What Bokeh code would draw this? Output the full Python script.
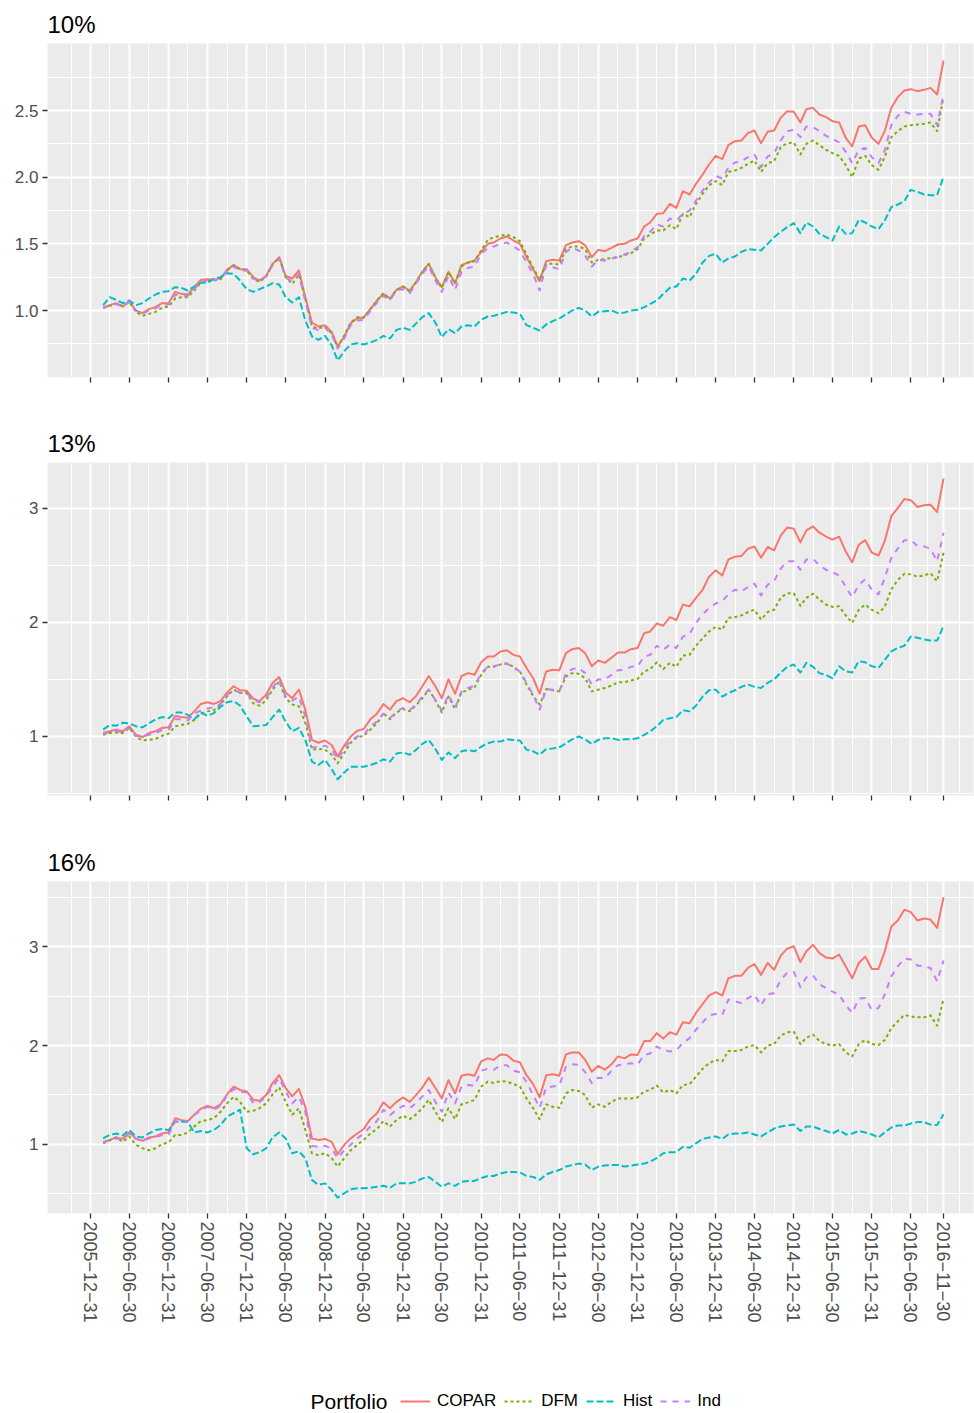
import calendar
from datetime import datetime
from bokeh.plotting import figure
from bokeh.layouts import column
from bokeh.models import ColumnDataSource, FixedTicker, Range1d, Legend, LegendItem, Label
from bokeh.embed import file_html
from bokeh.resources import INLINE

# ---------------- data ----------------
panel_titles = ["10%", "13%", "16%"]
series_names = ["COPAR", "DFM", "Hist", "Ind"]
tick_labels = ["2005-12-31", "2006-06-30", "2006-12-31", "2007-06-30", "2007-12-31",
               "2008-06-30", "2008-12-31", "2009-06-30", "2009-12-31", "2010-06-30",
               "2010-12-31", "2011-06-30", "2011-12-31", "2012-06-30", "2012-12-31",
               "2013-06-30", "2013-12-31", "2014-06-30", "2014-12-31", "2015-06-30",
               "2015-12-31", "2016-06-30", "2016-11-30"]
first_month = (2006, 2)   # monthly series, month-end values
n_months = 130

copar_10 = [1.025, 1.04, 1.055, 1.03, 1.07, 1.00, 0.98, 1.01, 1.025, 1.055,
            1.055, 1.14, 1.125, 1.12, 1.175, 1.23, 1.235, 1.23, 1.24, 1.305,
            1.34, 1.31, 1.31, 1.25, 1.225, 1.26, 1.35, 1.40, 1.26, 1.24,
            1.30, 1.10, 0.91, 0.88, 0.89, 0.84, 0.73, 0.805, 0.905, 0.94,
            0.95, 1.01, 1.075, 1.125, 1.09, 1.155, 1.18, 1.15, 1.21, 1.29,
            1.35, 1.25, 1.175, 1.29, 1.205, 1.34, 1.36, 1.375, 1.44, 1.50,
            1.51, 1.54, 1.555, 1.525, 1.50, 1.40, 1.31, 1.22, 1.37, 1.38,
            1.375, 1.49, 1.51, 1.52, 1.49, 1.40, 1.455, 1.445, 1.47, 1.495,
            1.50, 1.525, 1.54, 1.63, 1.66, 1.725, 1.73, 1.80, 1.77, 1.895,
            1.87, 1.95, 2.02, 2.095, 2.16, 2.135, 2.24, 2.27, 2.275, 2.33,
            2.35, 2.255, 2.34, 2.35, 2.445, 2.495, 2.49, 2.41, 2.51, 2.52,
            2.47, 2.45, 2.42, 2.41, 2.295, 2.23, 2.38, 2.39, 2.295, 2.25,
            2.345, 2.52, 2.60, 2.65, 2.66, 2.645, 2.655, 2.67, 2.62, 2.875]
dfm_10 = [1.02, 1.035, 1.05, 1.035, 1.065, 0.99, 0.96, 0.975, 0.99, 1.02,
          1.03, 1.09, 1.10, 1.10, 1.15, 1.21, 1.22, 1.225, 1.235, 1.30,
          1.34, 1.31, 1.30, 1.235, 1.215, 1.255, 1.345, 1.395, 1.25, 1.20,
          1.27, 1.09, 0.88, 0.865, 0.88, 0.83, 0.725, 0.81, 0.91, 0.95,
          0.945, 1.01, 1.075, 1.13, 1.085, 1.155, 1.18, 1.14, 1.21, 1.29,
          1.35, 1.24, 1.17, 1.29, 1.20, 1.33, 1.36, 1.37, 1.45, 1.53,
          1.55, 1.56, 1.57, 1.55, 1.52, 1.42, 1.32, 1.23, 1.35, 1.35,
          1.345, 1.46, 1.48, 1.48, 1.46, 1.36, 1.38, 1.385, 1.395, 1.40,
          1.415, 1.43, 1.46, 1.54, 1.57, 1.60, 1.60, 1.64, 1.61, 1.725,
          1.70, 1.80, 1.875, 1.94, 1.97, 1.94, 2.04, 2.05, 2.07, 2.10,
          2.125, 2.04, 2.105, 2.12, 2.225, 2.255, 2.26, 2.17, 2.25, 2.275,
          2.24, 2.205, 2.18, 2.16, 2.09, 2.00, 2.14, 2.16, 2.09, 2.055,
          2.15, 2.30, 2.345, 2.38, 2.39, 2.395, 2.40, 2.41, 2.345, 2.60]
hist_10 = [1.04, 1.10, 1.08, 1.055, 1.075, 1.04, 1.055, 1.09, 1.12, 1.14,
           1.145, 1.175, 1.17, 1.15, 1.18, 1.21, 1.205, 1.24, 1.25, 1.28,
           1.275, 1.225, 1.16, 1.14, 1.16, 1.18, 1.205, 1.195, 1.10, 1.06,
           1.10, 0.925, 0.805, 0.78, 0.81, 0.74, 0.625, 0.695, 0.745, 0.755,
           0.745, 0.76, 0.78, 0.81, 0.79, 0.855, 0.87, 0.855, 0.90, 0.95,
           0.98, 0.91, 0.80, 0.86, 0.83, 0.88, 0.89, 0.88, 0.93, 0.955,
           0.96, 0.975, 0.99, 0.985, 0.975, 0.89, 0.87, 0.85, 0.895, 0.92,
           0.94, 0.97, 1.00, 1.02, 1.00, 0.955, 0.99, 0.995, 1.00, 0.98,
           0.985, 1.00, 1.005, 1.025, 1.05, 1.075, 1.125, 1.17, 1.18, 1.24,
           1.225, 1.275, 1.36, 1.41, 1.425, 1.36, 1.39, 1.405, 1.44, 1.46,
           1.455, 1.45, 1.50, 1.55, 1.59, 1.625, 1.655, 1.58, 1.66, 1.63,
           1.575, 1.55, 1.525, 1.63, 1.575, 1.58, 1.68, 1.66, 1.63, 1.61,
           1.675, 1.775, 1.795, 1.82, 1.905, 1.89, 1.87, 1.865, 1.865, 2.005]
ind_10 = [1.02, 1.035, 1.05, 1.03, 1.065, 1.00, 0.975, 1.00, 1.015, 1.045,
          1.045, 1.12, 1.11, 1.11, 1.16, 1.215, 1.225, 1.23, 1.24, 1.295,
          1.33, 1.30, 1.30, 1.24, 1.22, 1.255, 1.34, 1.39, 1.245, 1.22,
          1.27, 1.07, 0.87, 0.855, 0.87, 0.82, 0.715, 0.79, 0.89, 0.925,
          0.93, 0.995, 1.06, 1.11, 1.075, 1.15, 1.16, 1.13, 1.20, 1.275,
          1.33, 1.225, 1.14, 1.26, 1.155, 1.29, 1.32, 1.33, 1.425, 1.47,
          1.48, 1.50, 1.51, 1.48, 1.45, 1.36, 1.275, 1.15, 1.34, 1.325,
          1.31, 1.44, 1.47, 1.45, 1.41, 1.33, 1.38, 1.375, 1.39, 1.40,
          1.42, 1.44, 1.475, 1.56, 1.59, 1.645, 1.63, 1.69, 1.675, 1.725,
          1.75, 1.825, 1.90, 1.96, 2.01, 1.99, 2.07, 2.11, 2.12, 2.15,
          2.17, 2.075, 2.155, 2.18, 2.275, 2.345, 2.355, 2.30, 2.38, 2.375,
          2.345, 2.31, 2.29, 2.26, 2.19, 2.105, 2.205, 2.22, 2.15, 2.105,
          2.20, 2.39, 2.46, 2.49, 2.475, 2.47, 2.475, 2.475, 2.39, 2.625]

copar_13 = [1.03, 1.045, 1.06, 1.045, 1.09, 1.015, 0.995, 1.03, 1.045, 1.075,
            1.08, 1.18, 1.17, 1.165, 1.22, 1.285, 1.30, 1.285, 1.31, 1.385,
            1.44, 1.405, 1.40, 1.33, 1.31, 1.365, 1.47, 1.52, 1.385, 1.335,
            1.41, 1.235, 0.97, 0.945, 0.965, 0.925, 0.825, 0.92, 1.00, 1.05,
            1.065, 1.15, 1.20, 1.285, 1.235, 1.31, 1.335, 1.30, 1.35, 1.44,
            1.53, 1.44, 1.335, 1.50, 1.375, 1.53, 1.555, 1.54, 1.65, 1.70,
            1.70, 1.745, 1.755, 1.715, 1.70, 1.60, 1.51, 1.375, 1.57, 1.585,
            1.58, 1.73, 1.765, 1.775, 1.73, 1.615, 1.665, 1.645, 1.69, 1.735,
            1.735, 1.765, 1.775, 1.905, 1.92, 1.99, 1.97, 2.045, 2.02, 2.155,
            2.14, 2.215, 2.285, 2.40, 2.455, 2.41, 2.55, 2.575, 2.58, 2.645,
            2.665, 2.565, 2.66, 2.63, 2.76, 2.83, 2.82, 2.70, 2.805, 2.84,
            2.785, 2.75, 2.725, 2.75, 2.62, 2.525, 2.68, 2.72, 2.61, 2.585,
            2.71, 2.93, 3.00, 3.08, 3.07, 3.01, 3.025, 3.03, 2.965, 3.26]
dfm_13 = [1.015, 1.03, 1.035, 1.03, 1.075, 1.00, 0.965, 0.97, 0.98, 1.005,
          1.025, 1.09, 1.10, 1.11, 1.145, 1.20, 1.22, 1.23, 1.28, 1.35,
          1.41, 1.38, 1.38, 1.29, 1.27, 1.315, 1.41, 1.48, 1.335, 1.28,
          1.265, 1.12, 0.885, 0.89, 0.885, 0.84, 0.765, 0.855, 0.945, 0.995,
          1.005, 1.06, 1.115, 1.205, 1.15, 1.21, 1.24, 1.22, 1.27, 1.335,
          1.41, 1.315, 1.21, 1.35, 1.24, 1.385, 1.41, 1.43, 1.54, 1.61,
          1.61, 1.63, 1.64, 1.61, 1.57, 1.455, 1.355, 1.28, 1.415, 1.405,
          1.395, 1.525, 1.555, 1.55, 1.51, 1.395, 1.41, 1.425, 1.445, 1.475,
          1.475, 1.49, 1.505, 1.57, 1.59, 1.65, 1.59, 1.645, 1.61, 1.71,
          1.715, 1.795, 1.86, 1.92, 1.96, 1.935, 2.04, 2.045, 2.06, 2.09,
          2.11, 2.025, 2.09, 2.11, 2.215, 2.255, 2.255, 2.145, 2.215, 2.25,
          2.20, 2.155, 2.135, 2.14, 2.06, 1.995, 2.11, 2.155, 2.11, 2.08,
          2.135, 2.29, 2.37, 2.425, 2.42, 2.40, 2.41, 2.43, 2.36, 2.61]
hist_13 = [1.06, 1.10, 1.095, 1.12, 1.115, 1.09, 1.08, 1.115, 1.15, 1.17,
           1.16, 1.21, 1.21, 1.19, 1.15, 1.21, 1.18, 1.205, 1.26, 1.30,
           1.31, 1.27, 1.175, 1.09, 1.095, 1.10, 1.17, 1.235, 1.13, 1.045,
           1.075, 0.97, 0.78, 0.75, 0.795, 0.715, 0.625, 0.685, 0.735, 0.735,
           0.735, 0.75, 0.77, 0.80, 0.78, 0.85, 0.86, 0.84, 0.88, 0.935,
           0.97, 0.89, 0.795, 0.86, 0.81, 0.87, 0.88, 0.87, 0.91, 0.94,
           0.955, 0.955, 0.975, 0.97, 0.965, 0.885, 0.87, 0.84, 0.89, 0.895,
           0.905, 0.94, 0.975, 1.00, 0.975, 0.935, 0.97, 0.985, 0.985, 0.97,
           0.975, 0.975, 0.985, 1.015, 1.045, 1.09, 1.145, 1.16, 1.17, 1.23,
           1.22, 1.27, 1.35, 1.405, 1.41, 1.35, 1.38, 1.405, 1.435, 1.455,
           1.435, 1.425, 1.47, 1.50, 1.56, 1.61, 1.63, 1.56, 1.645, 1.61,
           1.555, 1.54, 1.51, 1.615, 1.57, 1.56, 1.66, 1.65, 1.615, 1.60,
           1.67, 1.745, 1.775, 1.795, 1.875, 1.865, 1.85, 1.84, 1.84, 1.97]
ind_13 = [1.025, 1.035, 1.05, 1.035, 1.075, 1.005, 1.00, 1.015, 1.03, 1.055,
          1.06, 1.15, 1.15, 1.14, 1.20, 1.23, 1.245, 1.255, 1.285, 1.365,
          1.405, 1.385, 1.38, 1.315, 1.30, 1.335, 1.43, 1.50, 1.35, 1.315,
          1.35, 1.175, 0.905, 0.905, 0.92, 0.885, 0.80, 0.89, 0.965, 1.00,
          1.015, 1.09, 1.13, 1.20, 1.16, 1.22, 1.25, 1.23, 1.28, 1.35,
          1.41, 1.32, 1.23, 1.365, 1.25, 1.395, 1.425, 1.445, 1.555, 1.61,
          1.615, 1.63, 1.64, 1.60, 1.57, 1.47, 1.365, 1.235, 1.415, 1.41,
          1.395, 1.555, 1.59, 1.60, 1.555, 1.455, 1.50, 1.50, 1.54, 1.58,
          1.585, 1.61, 1.615, 1.70, 1.715, 1.795, 1.76, 1.805, 1.775, 1.875,
          1.90, 1.995, 2.07, 2.125, 2.165, 2.185, 2.245, 2.285, 2.27, 2.31,
          2.34, 2.235, 2.33, 2.36, 2.47, 2.535, 2.535, 2.46, 2.55, 2.555,
          2.50, 2.46, 2.44, 2.41, 2.31, 2.22, 2.33, 2.375, 2.285, 2.245,
          2.39, 2.565, 2.645, 2.72, 2.72, 2.67, 2.665, 2.645, 2.535, 2.785]

copar_16 = [1.025, 1.045, 1.07, 1.055, 1.12, 1.06, 1.035, 1.07, 1.08, 1.11,
            1.12, 1.265, 1.245, 1.235, 1.30, 1.36, 1.39, 1.365, 1.405, 1.505,
            1.585, 1.55, 1.535, 1.45, 1.44, 1.50, 1.62, 1.70, 1.57, 1.485,
            1.56, 1.38, 1.06, 1.045, 1.055, 1.025, 0.90, 0.995, 1.06, 1.11,
            1.155, 1.255, 1.315, 1.425, 1.365, 1.43, 1.475, 1.43, 1.495, 1.575,
            1.675, 1.57, 1.465, 1.65, 1.515, 1.695, 1.71, 1.695, 1.84, 1.87,
            1.855, 1.91, 1.905, 1.845, 1.83, 1.70, 1.61, 1.475, 1.70, 1.71,
            1.695, 1.91, 1.93, 1.93, 1.855, 1.735, 1.795, 1.755, 1.81, 1.89,
            1.87, 1.91, 1.905, 2.045, 2.045, 2.125, 2.07, 2.135, 2.11, 2.235,
            2.225, 2.33, 2.42, 2.505, 2.54, 2.505, 2.68, 2.705, 2.705, 2.785,
            2.825, 2.715, 2.835, 2.765, 2.91, 2.98, 3.005, 2.845, 2.955, 3.02,
            2.935, 2.89, 2.88, 2.92, 2.80, 2.68, 2.835, 2.90, 2.775, 2.775,
            2.95, 3.205, 3.265, 3.375, 3.35, 3.265, 3.285, 3.275, 3.19, 3.50]
dfm_16 = [1.01, 1.04, 1.07, 1.025, 1.08, 0.995, 0.96, 0.94, 0.96, 1.00,
          1.02, 1.095, 1.095, 1.12, 1.18, 1.235, 1.245, 1.265, 1.33, 1.415,
          1.48, 1.43, 1.33, 1.34, 1.365, 1.415, 1.505, 1.575, 1.43, 1.30,
          1.365, 1.145, 0.91, 0.89, 0.91, 0.86, 0.775, 0.86, 0.94, 0.995,
          1.045, 1.11, 1.155, 1.235, 1.18, 1.245, 1.29, 1.255, 1.30, 1.365,
          1.45, 1.33, 1.225, 1.365, 1.255, 1.405, 1.425, 1.45, 1.585, 1.635,
          1.62, 1.64, 1.635, 1.61, 1.585, 1.465, 1.365, 1.255, 1.405, 1.38,
          1.37, 1.515, 1.55, 1.54, 1.50, 1.37, 1.405, 1.38, 1.43, 1.465,
          1.465, 1.465, 1.475, 1.535, 1.55, 1.595, 1.525, 1.55, 1.515, 1.60,
          1.61, 1.685, 1.765, 1.82, 1.855, 1.84, 1.945, 1.945, 1.955, 1.99,
          2.005, 1.93, 2.00, 2.015, 2.10, 2.135, 2.14, 2.015, 2.08, 2.11,
          2.045, 2.015, 2.00, 2.015, 1.93, 1.89, 2.015, 2.055, 2.015, 2.005,
          2.055, 2.175, 2.245, 2.31, 2.295, 2.285, 2.285, 2.305, 2.20, 2.475]
hist_16 = [1.06, 1.095, 1.11, 1.09, 1.145, 1.08, 1.07, 1.11, 1.145, 1.155,
           1.145, 1.23, 1.23, 1.225, 1.12, 1.135, 1.12, 1.145, 1.195, 1.28,
           1.315, 1.35, 0.96, 0.90, 0.92, 0.96, 1.07, 1.12, 1.06, 0.91,
           0.93, 0.86, 0.64, 0.59, 0.605, 0.54, 0.46, 0.505, 0.545, 0.555,
           0.555, 0.56, 0.57, 0.58, 0.56, 0.605, 0.605, 0.605, 0.62, 0.655,
           0.67, 0.62, 0.57, 0.605, 0.58, 0.62, 0.63, 0.63, 0.66, 0.68,
           0.68, 0.705, 0.72, 0.72, 0.715, 0.68, 0.67, 0.64, 0.695, 0.72,
           0.74, 0.775, 0.79, 0.805, 0.795, 0.74, 0.775, 0.785, 0.79, 0.79,
           0.775, 0.785, 0.795, 0.805, 0.825, 0.86, 0.91, 0.92, 0.92, 0.975,
           0.965, 1.01, 1.055, 1.07, 1.08, 1.055, 1.10, 1.11, 1.11, 1.12,
           1.10, 1.08, 1.12, 1.16, 1.18, 1.19, 1.20, 1.135, 1.18, 1.18,
           1.155, 1.135, 1.11, 1.145, 1.10, 1.11, 1.135, 1.12, 1.10, 1.07,
           1.12, 1.17, 1.19, 1.19, 1.21, 1.225, 1.225, 1.20, 1.195, 1.305]
ind_16 = [1.02, 1.04, 1.06, 1.045, 1.11, 1.055, 1.035, 1.06, 1.07, 1.095,
          1.10, 1.23, 1.225, 1.235, 1.30, 1.34, 1.38, 1.35, 1.39, 1.49,
          1.56, 1.535, 1.525, 1.415, 1.43, 1.48, 1.585, 1.67, 1.535, 1.415,
          1.48, 1.33, 0.985, 0.975, 0.985, 0.96, 0.86, 0.94, 0.995, 1.06,
          1.11, 1.18, 1.235, 1.35, 1.295, 1.35, 1.39, 1.365, 1.415, 1.485,
          1.55, 1.43, 1.33, 1.525, 1.415, 1.585, 1.60, 1.595, 1.745, 1.765,
          1.755, 1.80, 1.80, 1.745, 1.73, 1.63, 1.50, 1.37, 1.575, 1.585,
          1.595, 1.785, 1.81, 1.805, 1.73, 1.62, 1.675, 1.67, 1.745, 1.80,
          1.81, 1.82, 1.81, 1.905, 1.92, 1.99, 1.955, 1.94, 1.955, 2.025,
          2.075, 2.16, 2.235, 2.305, 2.32, 2.31, 2.465, 2.445, 2.43, 2.48,
          2.515, 2.405, 2.52, 2.53, 2.665, 2.735, 2.745, 2.59, 2.69, 2.71,
          2.62, 2.58, 2.545, 2.515, 2.41, 2.33, 2.475, 2.48, 2.36, 2.38,
          2.515, 2.70, 2.80, 2.88, 2.87, 2.81, 2.80, 2.785, 2.65, 2.86]

panel_series = [
    [copar_10, dfm_10, hist_10, ind_10],
    [copar_13, dfm_13, hist_13, ind_13],
    [copar_16, dfm_16, hist_16, ind_16],
]
y_ticks = [[1.0, 1.5, 2.0, 2.5], [1, 2, 3], [1, 2, 3]]
y_tick_text = [["1.0", "1.5", "2.0", "2.5"], ["1", "2", "3"], ["1", "2", "3"]]
y_minor = [[0.75, 1.25, 1.75, 2.25, 2.75], [0.5, 1.5, 2.5, 3.5], [0.5, 1.5, 2.5, 3.5]]
y_limits = [(0.4975, 3.0025), (0.483, 3.40), (0.30, 3.66)]

# ---------------- styling ----------------
colors = ["#F8766D", "#7CAE00", "#00BFC4", "#C77CFF"]
dashes = ["solid", "3 3", "7 3", "6 6"]
FONT = "Liberation Sans"
W = 974
LEFT_B = 47
frame_h = [334, 333, 332]
top_b = [43, 40, 40]
bottom_b = [45, 46, 157]
LEGEND_H = 43

for s in panel_series:
    for arr in s:
        assert len(arr) == n_months


def month_end(y, m):
    return datetime(y, m, calendar.monthrange(y, m)[1])


dates = []
for i in range(n_months):
    t = first_month[0] * 12 + (first_month[1] - 1) + i
    dates.append(month_end(t // 12, t % 12 + 1))

EPOCH = datetime(1970, 1, 1)


def to_ms(d):
    return (d - EPOCH).total_seconds() * 1000.0


tick_ms = [to_ms(datetime.strptime(s, "%Y-%m-%d")) for s in tick_labels]
minor_ms = [tick_ms[0] - (tick_ms[1] - tick_ms[0]) / 2]
minor_ms += [(a + b) / 2 for a, b in zip(tick_ms[:-1], tick_ms[1:])]
minor_ms += [tick_ms[-1] + (tick_ms[-1] - tick_ms[-2]) / 2]

x_lo = datetime(2005, 6, 13)
x_hi = datetime(2017, 4, 19)

figs = []
for pi in range(3):
    src = ColumnDataSource(dict(date=dates, **{n: panel_series[pi][j] for j, n in enumerate(series_names)}))
    p = figure(width=W, height=top_b[pi] + frame_h[pi] + bottom_b[pi],
               x_axis_type="datetime",
               x_range=Range1d(x_lo, x_hi),
               y_range=Range1d(*y_limits[pi]),
               toolbar_location=None, output_backend="svg",
               min_border_left=LEFT_B, min_border_right=1,
               min_border_top=top_b[pi], min_border_bottom=bottom_b[pi])
    p.title.text = panel_titles[pi]
    p.title.text_font = FONT
    p.title.text_font_size = "24px"
    p.title.text_font_style = "normal"
    p.title.text_color = "black"
    p.title.align = "left"
    p.title.standoff = 11
    p.background_fill_color = "#EBEBEB"
    p.border_fill_color = "white"
    p.outline_line_color = None

    p.xaxis.ticker = FixedTicker(ticks=tick_ms, minor_ticks=minor_ms)
    if pi == 2:
        p.xaxis.major_label_overrides = {t: s.replace("-", "\u2212") for t, s in zip(tick_ms, tick_labels)}
        p.xaxis.major_label_orientation = "vertical"
    else:
        p.xaxis.major_label_overrides = {t: "" for t in tick_ms}
    p.yaxis.ticker = FixedTicker(ticks=y_ticks[pi], minor_ticks=y_minor[pi])
    p.yaxis.major_label_overrides = {t: s for t, s in zip(y_ticks[pi], y_tick_text[pi])}

    p.axis.axis_line_color = None
    p.axis.major_tick_line_color = "#333333"
    p.axis.major_tick_line_width = 1.3
    p.axis.major_tick_in = 0
    p.axis.major_tick_out = 5
    p.axis.minor_tick_line_color = None
    p.axis.major_label_text_font = FONT
    p.axis.major_label_text_color = "#4D4D4D"
    p.yaxis.major_label_text_font_size = "17px"
    p.xaxis.major_label_text_font_size = "18px"
    p.yaxis.major_label_standoff = 4
    p.xaxis.major_label_standoff = 3

    p.grid.grid_line_color = "white"
    p.grid.grid_line_width = 2
    p.grid.minor_grid_line_color = "white"
    p.grid.minor_grid_line_width = 1

    for j, n in enumerate(series_names):
        p.line("date", n, source=src, line_color=colors[j], line_width=2,
               line_dash=dashes[j], line_join="round")
    figs.append(p)

# ---------------- legend strip ----------------
lg = figure(width=W, height=LEGEND_H, x_range=Range1d(0, 1), y_range=Range1d(0, 1),
            toolbar_location=None, output_backend="svg",
            x_axis_type=None, y_axis_type=None,
            min_border_left=LEFT_B, min_border_right=1,
            min_border_top=0, min_border_bottom=0)
lg.outline_line_color = None
lg.grid.visible = False
lsrc = ColumnDataSource(dict(date=dates, **{n: panel_series[2][j] for j, n in enumerate(series_names)}))
items = []
for j, n in enumerate(series_names):
    r = lg.line("date", n, source=lsrc, line_color=colors[j], line_width=2,
                line_dash=dashes[j])
    r.visible = False
    items.append(LegendItem(label=n, renderers=[r]))
legend = Legend(items=items, orientation="horizontal", location=(353, 2),
                glyph_width=30, glyph_height=18, label_standoff=7, spacing=8,
                padding=0, margin=0, border_line_color=None,
                background_fill_alpha=0, label_text_font=FONT,
                label_text_font_size="17px", label_text_color="black",
                label_height=18)
lg.add_layout(legend)
lg.add_layout(Label(x=263, y=12, x_units="screen", y_units="screen", text="Portfolio",
                    text_font=FONT, text_font_size="21px", text_color="black",
                    text_baseline="middle", text_align="left"))

layout = column(*figs, lg, spacing=0)
open("out.html", "w").write(file_html(layout, INLINE))
